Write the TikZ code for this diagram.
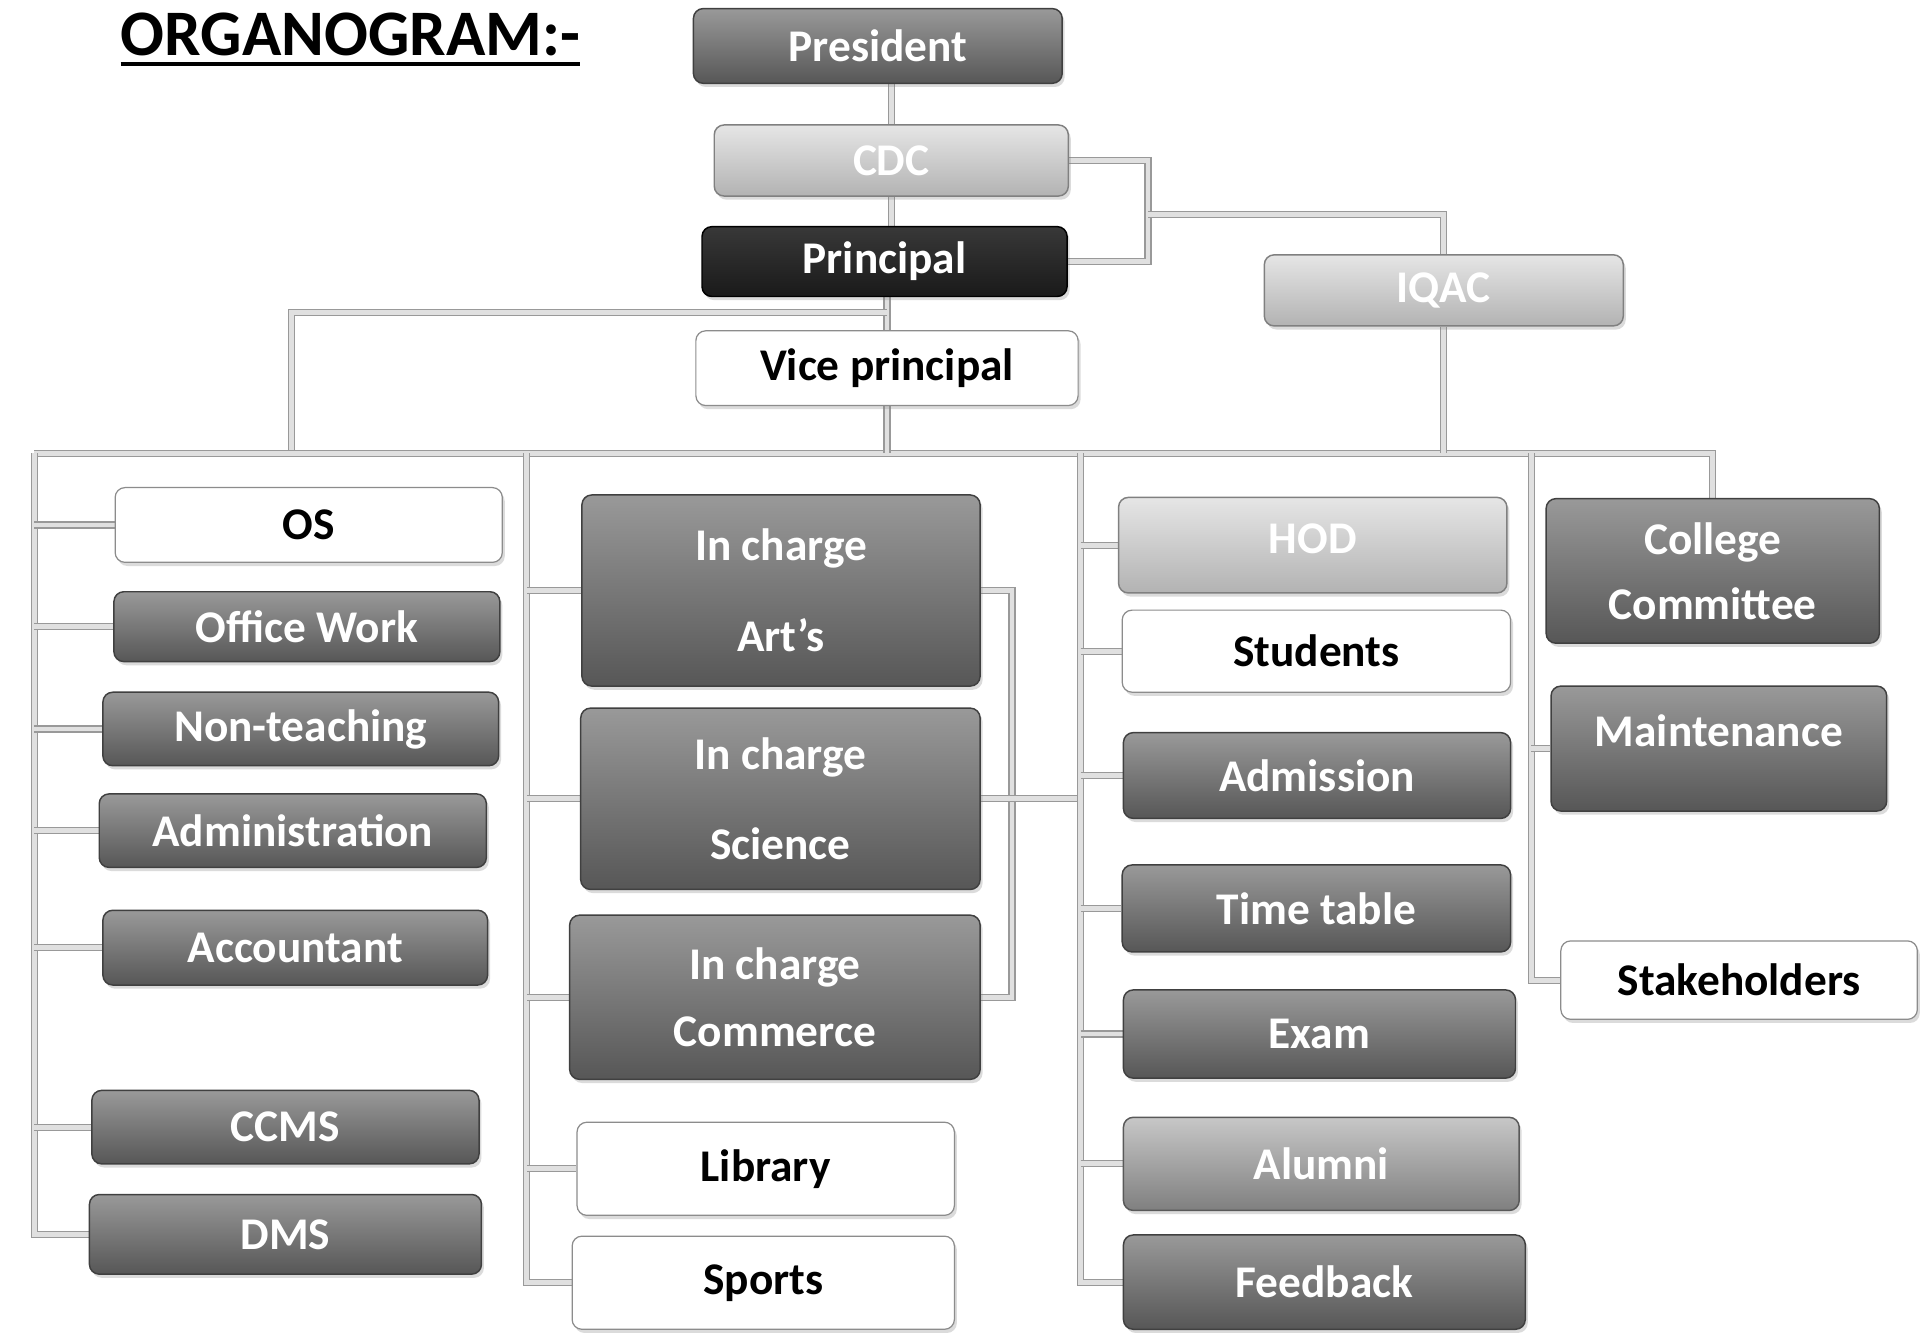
\documentclass[tikz,border=0pt]{standalone}
\usepackage{fontspec}
\setmainfont{Carlito}
\usetikzlibrary{shadows,backgrounds}
\begin{document}
\begin{tikzpicture}[x=1pt,y=-1pt,
  box/.style={rounded corners=8pt, line width=1.2pt, inner sep=0pt, align=center,
    font=\bfseries\fontsize{37}{44}\selectfont,
    drop shadow={opacity=0.28, shadow xshift=2pt, shadow yshift=-3pt}},
  darkbox/.style={box, draw=black!75, top color=black!40, bottom color=black!66, text=white},
  blackbox/.style={box, draw=black, top color=black!78, bottom color=black!90, text=white},
  lightbox/.style={box, draw=black!50, top color=black!10, bottom color=black!30, text=white},
  midbox/.style={box, draw=black!65, top color=black!22, bottom color=black!50, text=white},
  whitebox/.style={box, draw=black!45, line width=1pt, fill=white, text=black},
  conn/.style={draw=black!40, line width=0.9pt, double=black!12, double distance=4pt}]
\useasboundingbox (0,0) rectangle (1568,1090);

% title
\node[inner sep=0pt, font=\bfseries\fontsize{53}{60}\selectfont] (title) at (286,28) {ORGANOGRAM:-};
\draw[line width=3pt] ([yshift=-7pt]title.base west) -- ([yshift=-7pt]title.base east);

% top chain
\node[darkbox, minimum width=301pt, minimum height=61pt] (president) at (716.5,37.5) {President};
\node[lightbox, minimum width=289pt, minimum height=58pt] (cdc) at (727.5,131) {CDC};
\node[blackbox, minimum width=298pt, minimum height=57pt] (principal) at (722,213.5) {Principal};
\node[whitebox, minimum width=312pt, minimum height=61pt] (vp) at (724,300.5) {Vice principal};
\node[lightbox, minimum width=293pt, minimum height=58pt] (iqac) at (1178.5,237) {IQAC};

% left column
\node[whitebox, minimum width=316pt, minimum height=61pt] (os) at (252,428.5) {OS};
\node[darkbox, minimum width=315pt, minimum height=57pt] (office) at (250.5,511.5) {Office Work};
\node[darkbox, minimum width=323pt, minimum height=60pt] (nonteach) at (245.5,595) {Non-teaching};
\node[darkbox, minimum width=316pt, minimum height=60pt] (admin) at (239,678) {Administration};
\node[darkbox, minimum width=314pt, minimum height=61pt] (acct) at (241,773.5) {Accountant};
\node[darkbox, minimum width=316pt, minimum height=60pt] (ccms) at (233,920) {CCMS};
\node[darkbox, minimum width=320pt, minimum height=65pt] (dms) at (233,1007.5) {DMS};

% middle column
\node[darkbox, minimum width=325pt, minimum height=156pt] (arts) at (637.5,482) {In charge\\[30pt]Art’s};
\node[darkbox, minimum width=326pt, minimum height=148pt] (science) at (637,652) {In charge\\[30pt]Science};
\node[darkbox, minimum width=335pt, minimum height=134pt] (commerce) at (632.5,814) {In charge\\[10pt]Commerce};
\node[whitebox, minimum width=308pt, minimum height=76pt] (library) at (625,954) {Library};
\node[whitebox, minimum width=312pt, minimum height=76pt] (sports) at (623,1047) {Sports};

% third column
\node[lightbox, minimum width=317pt, minimum height=78pt, text depth=10pt] (hod) at (1071.5,445) {HOD};
\node[whitebox, minimum width=317pt, minimum height=67pt] (students) at (1074.5,531.5) {Students};
\node[darkbox, minimum width=316pt, minimum height=70pt] (admission) at (1075,633) {Admission};
\node[darkbox, minimum width=317pt, minimum height=71pt] (timetable) at (1074.5,741.5) {Time table};
\node[darkbox, minimum width=320pt, minimum height=72pt] (exam) at (1077,844) {Exam};
\node[midbox, minimum width=323pt, minimum height=76pt] (alumni) at (1078.5,950) {Alumni};
\node[darkbox, minimum width=328pt, minimum height=77pt] (feedback) at (1081,1046.5) {Feedback};

% fourth column
\node[darkbox, minimum width=272pt, minimum height=118pt] (college) at (1398,466) {College\\[9pt]Committee};
\node[darkbox, minimum width=274pt, minimum height=102pt, text depth=30pt] (maint) at (1403,611) {Maintenance};
\node[whitebox, minimum width=291pt, minimum height=64pt] (stake) at (1419.5,800) {Stakeholders};

% junctions
\coordinate (jc) at (937,175);
\coordinate (jp) at (724,255);
\coordinate (jl) at (238,370);
\coordinate (busL) at (28,370);
\coordinate (busM) at (430,370);
\coordinate (busT) at (882,370);
\coordinate (busR) at (1250,370);
\coordinate (brk) at (826,482);

\begin{pgfonlayer}{background}
\fill[white] (0,0) rectangle (1568,1090);
% top chain
\draw[conn] (president.south -| cdc.north) -- (cdc.north);
\draw[conn] (cdc.south) -- (cdc.south |- principal.north);
\draw[conn] (vp.north |- principal.south) -- (vp.north);
\draw[conn] (cdc.east) -| (jc) |- (principal.east);
\draw[conn] (jc) -| (iqac.north);
\draw[conn] (jp) -| (jl);
% main bus
\draw[conn] (busL) -- (college.north |- busL) -- (college.north);
\draw[conn] (vp.south) -- (vp.south |- busL);
\draw[conn] (iqac.south) -- (iqac.south |- busL);
% left column
\draw[conn] (busL) |- (dms.west);
\draw[conn] (os.west -| busL) -- (os.west);
\draw[conn] (office.west -| busL) -- (office.west);
\draw[conn] (nonteach.west -| busL) -- (nonteach.west);
\draw[conn] (admin.west -| busL) -- (admin.west);
\draw[conn] (acct.west -| busL) -- (acct.west);
\draw[conn] (ccms.west -| busL) -- (ccms.west);
% middle column
\draw[conn] (busM) |- (sports.west);
\draw[conn] (arts.west -| busM) -- (arts.west);
\draw[conn] (science.west -| busM) -- (science.west);
\draw[conn] (commerce.west -| busM) -- (commerce.west);
\draw[conn] (library.west -| busM) -- (library.west);
\draw[conn] (arts.east) -- (brk) |- (commerce.east);
\draw[conn] (science.east) -- (science.east -| busT);
% third column
\draw[conn] (busT) |- (feedback.west);
\draw[conn] (hod.west -| busT) -- (hod.west);
\draw[conn] (students.west -| busT) -- (students.west);
\draw[conn] (admission.west -| busT) -- (admission.west);
\draw[conn] (timetable.west -| busT) -- (timetable.west);
\draw[conn] (exam.west -| busT) -- (exam.west);
\draw[conn] (alumni.west -| busT) -- (alumni.west);
% fourth column
\draw[conn] (busR) |- (stake.west);
\draw[conn] (maint.west -| busR) -- (maint.west);
\end{pgfonlayer}
\end{tikzpicture}
\end{document}
